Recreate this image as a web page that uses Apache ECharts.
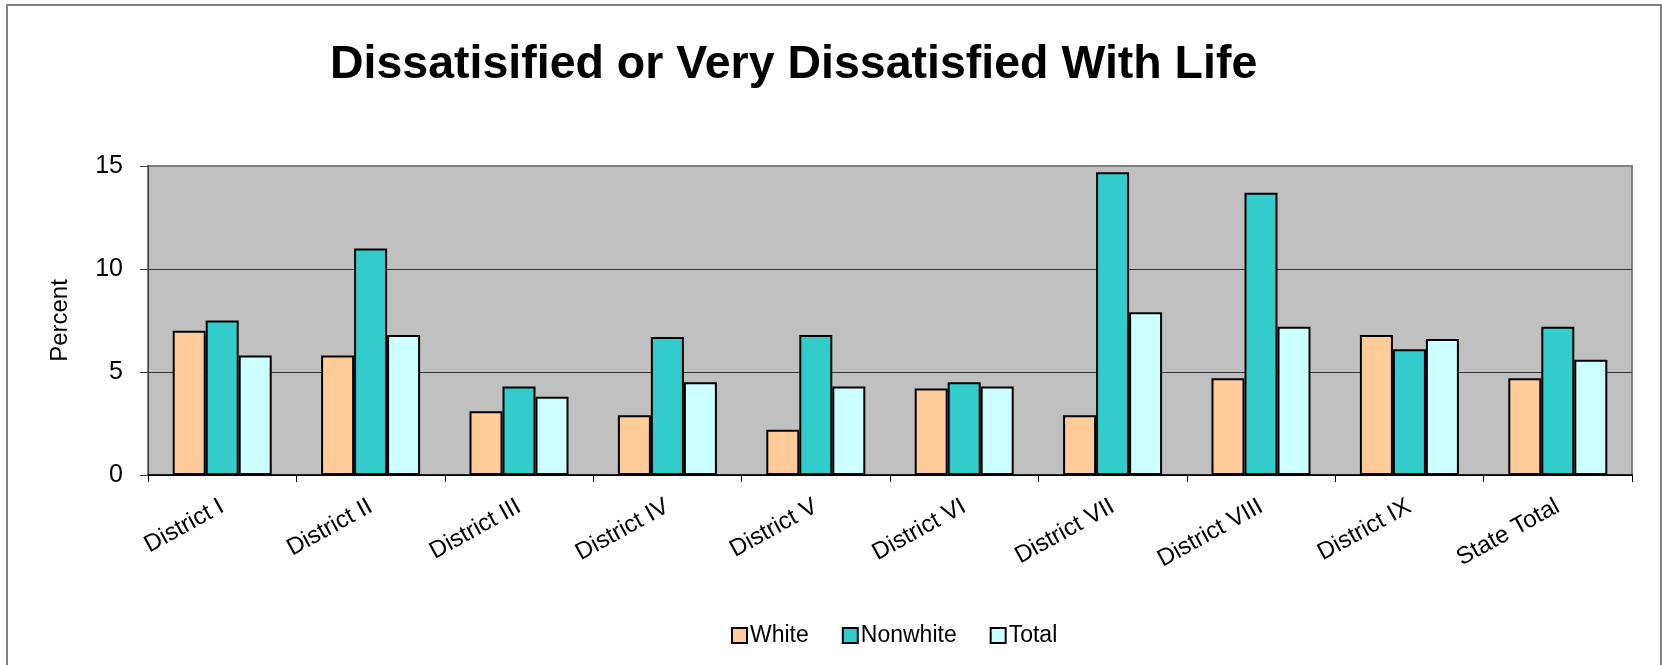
<!DOCTYPE html>
<html>
<head>
<meta charset="utf-8">
<title>Dissatisified or Very Dissatisfied With Life</title>
<script src="https://cdn.jsdelivr.net/npm/echarts@6/dist/echarts.min.js"></script>
<style>
  html, body { margin: 0; padding: 0; background: #fff; }
  #main { width: 1662px; height: 665px; }
</style>
</head>
<body>
<div id="main"></div>
<script>
// data
const districts = ['District I', 'District II', 'District III', 'District IV', 'District V',
  'District VI', 'District VII', 'District VIII', 'District IX', 'State Total']
const white = [7.0, 5.8, 3.1, 2.9, 2.2, 4.2, 2.9, 4.7, 6.8, 4.7]
const nonwhite = [7.5, 11.0, 4.3, 6.7, 6.8, 4.5, 14.7, 13.7, 6.1, 7.2]
const total = [5.8, 6.8, 3.8, 4.5, 4.3, 4.3, 7.9, 7.2, 6.6, 5.6]

const font = "'Liberation Sans', Arial, sans-serif"

function bar(name, data, color) {
  return {
    name: name,
    type: 'bar',
    data: data,
    barWidth: 33,
    barGap: '0%',
    itemStyle: { color: color, borderColor: '#000', borderWidth: 2 }
  }
}

const option = {
  animation: false,
  textStyle: { fontFamily: font, color: '#000' },
  graphic: [
    // outer chart border
    { type: 'rect', shape: { x: 7, y: 5, width: 1654, height: 720 },
      style: { fill: 'none', stroke: '#808080', lineWidth: 2 }, silent: true }
  ],
  title: {
    text: 'Dissatisified or Very Dissatisfied With Life',
    left: 330,
    top: 42,
    padding: 0,
    textStyle: { fontFamily: font, fontSize: 46.5, fontWeight: 'bold', color: '#000' }
  },
  legend: {
    left: 731,
    top: 624,
    padding: 0,
    itemWidth: 15,
    itemHeight: 15,
    itemGap: 33,
    icon: 'rect',
    textStyle: { fontFamily: font, fontSize: 23, color: '#000', padding: [0, 0, 0, -2] },
    itemStyle: { borderColor: '#000', borderWidth: 2 }
  },
  grid: {
    left: 148,
    right: 30,
    top: 166,
    bottom: 190,
    show: true,
    backgroundColor: '#C0C0C0',
    borderColor: '#808080',
    borderWidth: 2
  },
  xAxis: {
    type: 'category',
    data: districts,
    axisLine: { lineStyle: { color: '#000', width: 1.5 } },
    axisTick: { show: true, length: 7, lineStyle: { color: '#000' } },
    axisLabel: { rotate: 29, margin: 30, fontFamily: font, fontSize: 24, color: '#000' }
  },
  yAxis: {
    type: 'value',
    min: 0,
    max: 15,
    interval: 5,
    name: 'Percent',
    nameLocation: 'middle',
    nameGap: 76,
    nameTextStyle: { fontFamily: font, fontSize: 24, color: '#000' },
    axisLine: { show: true, lineStyle: { color: '#404040', width: 1 } },
    axisTick: { show: true, length: 8, lineStyle: { color: '#404040' } },
    axisLabel: { margin: 25, fontFamily: font, fontSize: 25, color: '#000' },
    splitLine: { show: true, lineStyle: { color: ['#000', '#333', '#333', '#808080'], width: 1 } }
  },
  series: [
    bar('White', white, '#FFCC99'),
    bar('Nonwhite', nonwhite, '#33CCCC'),
    bar('Total', total, '#CCFFFF')
  ]
}

let chart = echarts.init(document.getElementById('main'))
chart.setOption(option)
</script>
</body>
</html>
